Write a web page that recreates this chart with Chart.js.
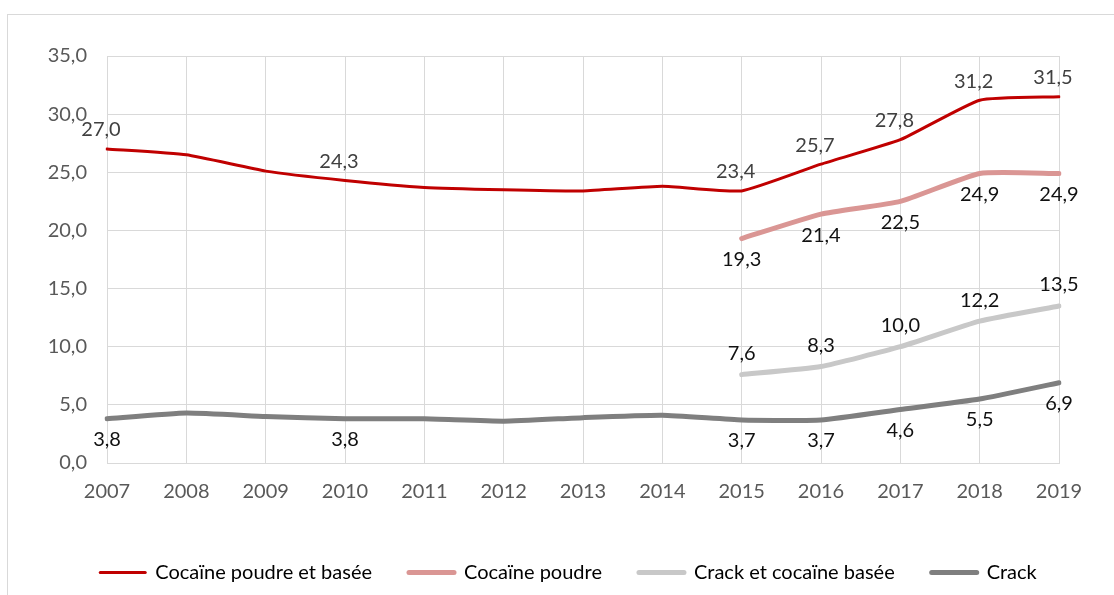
<!DOCTYPE html>
<html>
<head>
<meta charset="utf-8">
<script src="https://cdn.jsdelivr.net/npm/chart.js@4"></script>
<style>
  body { margin: 0; width: 1114px; height: 595px; overflow: hidden; background: #fff; }
  .frame { position: absolute; left: 7px; top: 14px; width: 1200px; height: 700px; border: 1px solid #d9d9d9; }
  .container { position: absolute; left: 0; top: 0; width: 1114px; height: 630px; }
</style>
</head>
<body>
<div class="frame"></div>
<div class="container"><canvas id="myChart"></canvas></div>
<script>
const years = ["2007", "2008", "2009", "2010", "2011", "2012", "2013", "2014", "2015", "2016", "2017", "2018", "2019"];

const cocaineAll = [27.0, 26.5, 25.1, 24.3, 23.7, 23.5, 23.4, 23.8, 23.4, 25.7, 27.8, 31.2, 31.5];
const cocainePowder = [null, null, null, null, null, null, null, null, 19.3, 21.4, 22.5, 24.9, 24.9];
const crackBased = [null, null, null, null, null, null, null, null, 7.6, 8.3, 10.0, 12.2, 13.5];
const crack = [3.8, 4.3, 4.0, 3.8, 3.8, 3.6, 3.9, 4.1, 3.7, 3.7, 4.6, 5.5, 6.9];

// points that get a value written next to them
const cocaineAllLabeled = [0, 3, 8, 9, 10, 11, 12];
const cocainePowderLabeled = [8, 9, 10, 11, 12];
const crackBasedLabeled = [8, 9, 10, 11, 12];
const crackLabeled = [0, 3, 8, 9, 10, 11, 12];

const FONT = "Lato, sans-serif";
const fmt = (v) => v.toFixed(1).replace(".", ",");

// writes the value labels above / below the line points
const valueLabels = {
  id: "valueLabels",
  afterDatasetsDraw(chart) {
    const ctx = chart.ctx;
    chart.data.datasets.forEach((ds, i) => {
      const meta = chart.getDatasetMeta(i);
      ctx.save();
      ctx.font = "20px " + FONT;
      ctx.fillStyle = ds.labelColor;
      ctx.textAlign = "center";
      ctx.textBaseline = "middle";
      ds.labeled.forEach((idx) => {
        const pt = meta.data[idx];
        ctx.fillText(fmt(ds.data[idx]), pt.x + (ds.labelShiftX || 0), pt.y + ds.labelOffset);
      });
      ctx.restore();
    });
  }
};

// legend sits a bit right of the plot centre
const legendShift = {
  id: "legendShift",
  afterLayout(chart) {
    chart.legend.left += 39;
    chart.legend.right += 39;
  }
};

const ctx = document.getElementById("myChart");

new Chart(ctx, {
  type: "line",
  data: {
    labels: years,
    datasets: [
      {
        label: "Cocaïne poudre et basée",
        data: cocaineAll,
        borderColor: "#c00000",
        backgroundColor: "#c00000",
        borderWidth: 3,
        labeled: cocaineAllLabeled,
        labelOffset: -19,
        labelShiftX: -6,
        labelColor: "#404040"
      },
      {
        label: "Cocaïne poudre",
        data: cocainePowder,
        borderColor: "#da9694",
        backgroundColor: "#da9694",
        borderWidth: 5,
        labeled: cocainePowderLabeled,
        labelOffset: 21,
        labelColor: "#111"
      },
      {
        label: "Crack et cocaïne basée",
        data: crackBased,
        borderColor: "#c8c8c8",
        backgroundColor: "#c8c8c8",
        borderWidth: 5,
        labeled: crackBasedLabeled,
        labelOffset: -21,
        labelColor: "#111"
      },
      {
        label: "Crack",
        data: crack,
        borderColor: "#7f7f7f",
        backgroundColor: "#7f7f7f",
        borderWidth: 5,
        labeled: crackLabeled,
        labelOffset: 21,
        labelColor: "#111"
      }
    ]
  },
  options: {
    responsive: true,
    maintainAspectRatio: false,
    animation: false,
    devicePixelRatio: 1,
    layout: { padding: { left: 0, right: 55, top: 56, bottom: 37.5 } },
    elements: {
      point: { radius: 0 },
      line: { tension: 0.15, borderCapStyle: "round", borderJoinStyle: "round" }
    },
    scales: {
      x: {
        offset: false,
        grid: { color: "#d9d9d9", drawTicks: false },
        border: { color: "#d9d9d9" },
        ticks: { color: "#595959", font: { family: FONT, size: 20 }, padding: 17, maxRotation: 0 },
        afterFit(scale) { scale.height = 62.5; }
      },
      y: {
        min: 0,
        max: 35,
        grid: { color: "#d9d9d9", drawTicks: false },
        border: { color: "#d9d9d9" },
        ticks: {
          stepSize: 5,
          color: "#595959",
          font: { family: FONT, size: 20 },
          padding: 20,
          callback: (v) => fmt(v)
        },
        afterFit(scale) { scale.width = 107; }
      }
    },
    plugins: {
      tooltip: { enabled: false },
      legend: {
        position: "bottom",
        labels: {
          usePointStyle: true,
          pointStyleWidth: 45,
          padding: 37,
          color: "#404040",
          font: { family: FONT, size: 20 },
          generateLabels(chart) {
            return chart.data.datasets.map((ds, i) => ({
              text: ds.label,
              fillStyle: ds.borderColor,
              strokeStyle: ds.borderColor,
              lineWidth: ds.borderWidth,
              lineCap: "round",
              pointStyle: "line",
              hidden: false,
              datasetIndex: i
            }));
          }
        }
      }
    }
  },
  plugins: [valueLabels, legendShift]
});
</script>
</body>
</html>
